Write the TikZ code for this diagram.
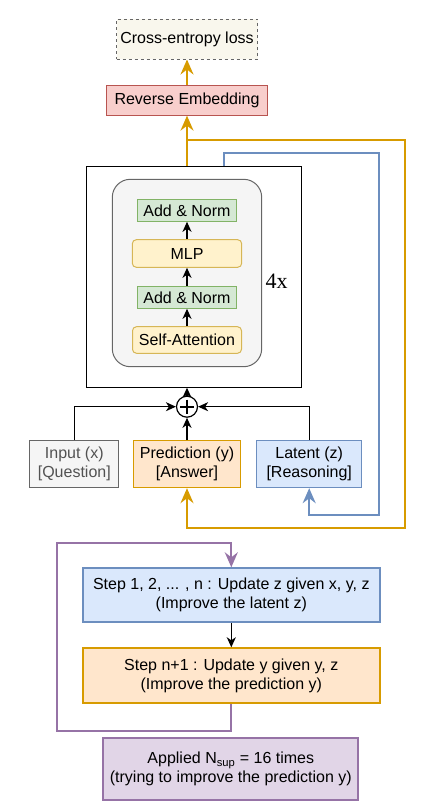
\documentclass[tikz,border=0pt]{standalone}
\usepackage{fontspec}
\setmainfont{Liberation Sans}
\newfontfamily\serifx{Liberation Serif}
\usetikzlibrary{arrows.meta}
\definecolor{lossfill}{HTML}{F9F7ED}
\definecolor{revfill}{HTML}{F8CECC}
\definecolor{revline}{HTML}{B85450}
\definecolor{greenfill}{HTML}{D5E8D4}
\definecolor{greenline}{HTML}{82B366}
\definecolor{yellowfill}{HTML}{FFF2CC}
\definecolor{yellowline}{HTML}{D6B656}
\definecolor{grayfill}{HTML}{F5F5F5}
\definecolor{grayline}{HTML}{666666}
\definecolor{orangefill}{HTML}{FFE6CC}
\definecolor{orangeline}{HTML}{D79B00}
\definecolor{bluefill}{HTML}{DAE8FC}
\definecolor{blueline}{HTML}{6C8EBF}
\definecolor{purplefill}{HTML}{E1D5E7}
\definecolor{purpleline}{HTML}{9673A6}
\tikzset{
  box/.style={draw, inner sep=0pt, align=center, line width=1pt},
  lossbox/.style={box, draw=grayline, fill=lossfill, dash pattern=on 3pt off 3pt},
  revbox/.style={box, draw=revline, fill=revfill},
  normbox/.style={box, draw=greenline, fill=greenfill},
  layerbox/.style={box, draw=yellowline, fill=yellowfill, rounded corners=4pt},
  inbox/.style={box, draw=grayline, fill=grayfill, text=grayline!80!black},
  predbox/.style={box, draw=orangeline, fill=orangefill},
  latbox/.style={box, draw=blueline, fill=bluefill},
  stepbox/.style={box, line width=2pt},
  arr/.style={-{Stealth[length=10pt,width=9pt,inset=3pt]}, line width=1.2pt},
  bigarr/.style={-{Stealth[length=15pt,width=13pt,inset=5pt]}, line width=2pt}
}

\begin{document}
\begin{tikzpicture}[x=1pt, y=-1pt, font=\fontsize{16}{19}\selectfont]
\useasboundingbox (0,0) rectangle (426,811);

\node[lossbox, minimum width=141pt, minimum height=40pt] (loss) at (187,39) {Cross-entropy loss};
\node[revbox, minimum width=161pt, minimum height=29.5pt] (rev) at (187,100.4) {Reverse Embedding};

\node[box, minimum width=215pt, minimum height=221pt] (tf) at (193.7,276.7) {};
\node[box, draw=grayline, fill=grayfill, rounded corners=18pt, minimum width=149.4pt, minimum height=187.4pt] (blk) at (187,273) {};
\node[normbox, minimum width=99pt, minimum height=22pt] (an2) at (187,210.3) {Add \& Norm};
\node[layerbox, minimum width=109.4pt, minimum height=27.6pt] (mlp) at (187,253.5) {MLP};
\node[normbox, minimum width=99pt, minimum height=22pt] (an1) at (187,297.3) {Add \& Norm};
\node[layerbox, minimum width=109pt, minimum height=26.6pt] (sa) at (187,340) {Self-Attention};
\node[font=\serifx\fontsize{22}{24}\selectfont] (rep) at (276.7,281.7) {4x};

\node[circle, draw, fill=white, line width=1.2pt, minimum size=21pt, inner sep=0pt] (sum) at (187,406.7) {};
\draw[line width=1.6pt] (sum.center) +(-7,0) -- +(7,0) (sum.center) +(0,-7) -- +(0,7);

\node[inbox, minimum width=88.7pt, minimum height=47pt] (in) at (74.3,464.2) {Input (x)\\{}[Question]};
\node[predbox, minimum width=107.7pt, minimum height=47pt] (pred) at (187,464.2) {Prediction (y)\\{}[Answer]};
\node[latbox, minimum width=105pt, minimum height=47pt] (lat) at (309.2,464.2) {Latent (z)\\{}[Reasoning]};

\draw[arr] (sa.north) -- (an1.south);
\draw[arr] (an1.north) -- (mlp.south);
\draw[arr] (mlp.north) -- (an2.south);
\draw[arr] (sum.north) -- (sum.north |- tf.south);
\draw[arr] (pred.north) -- (sum.south);
\draw[arr] (in.north) |- (sum.west);
\draw[arr] (lat.north) |- (sum.east);

\draw[bigarr, orangeline] (rev.south |- tf.north) -- (rev.south);
\draw[bigarr, orangeline] (loss.south |- rev.north) -- (loss.south);
\draw[bigarr, orangeline] (rev.south |- 0,140) -| (405,527.7) -| (pred.south);
\draw[bigarr, blueline] ([xshift=138pt]tf.north west) |- (379,152.7) |- (lat.south |- 0,515) -- (lat.south);

\node[stepbox, draw=blueline, fill=bluefill, minimum width=297.3pt, minimum height=54pt] (upz) at (231.3,595.3) {Step 1, 2, ... , n : Update z given x, y, z\\(Improve the latent z)};
\node[stepbox, draw=orangeline, fill=orangefill, minimum width=297.3pt, minimum height=55pt] (upy) at (231.3,675.8) {Step n+1 : Update y given y, z\\(Improve the prediction y)};
\node[stepbox, draw=purpleline, fill=purplefill, minimum width=255pt, minimum height=62.3pt] (nsup) at (230.8,768.8) {Applied N\textsubscript{sup} = 16 times\\(trying to improve the prediction y)};

\draw[arr] (upz.south) -- (upy.north);
\draw[bigarr, purpleline] (upy.south) -- ++(0,27) -| (56.7,542.7) -| (upz.north);
\end{tikzpicture}
\end{document}
